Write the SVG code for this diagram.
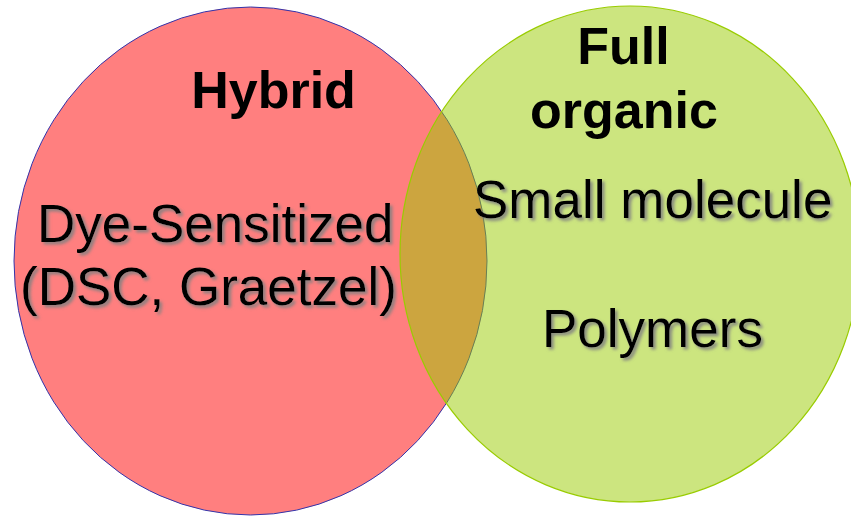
<svg xmlns="http://www.w3.org/2000/svg" width="851" height="516" viewBox="0 0 851 516">
<style>
.bold{font-family:"Liberation Sans",Arial,sans-serif;font-weight:bold;font-size:52px;fill:#000}
.reg{font-family:"Liberation Sans",Arial,sans-serif;font-size:53px;fill:#000;filter:url(#sh)}
</style>
<defs>
<filter id="sh" x="-10%" y="-30%" width="130%" height="160%">
<feDropShadow dx="2.5" dy="2.5" stdDeviation="1.5" flood-color="#808080" flood-opacity="0.9"/>
</filter>
</defs>
<rect width="851" height="516" fill="#fff"/>
<g id="hybrid">
<ellipse cx="250.5" cy="261" rx="236.5" ry="254" fill="#FF0000" fill-opacity="0.5" stroke="#3333AA" stroke-width="1"/>
</g>
<g id="full-organic">
<ellipse cx="630" cy="254" rx="230" ry="248" fill="#99CC00" fill-opacity="0.5" stroke="#99CC00" stroke-width="1.2"/>
</g>
<g id="labels">
<text class="bold" x="273.5" y="108" text-anchor="middle">Hybrid</text>
<text class="bold" x="623.5" y="64" text-anchor="middle">Full</text>
<text class="bold" x="624" y="128" text-anchor="middle">organic</text>
<text class="reg" x="37" y="242">Dye-Sensitized</text>
<text class="reg" x="20" y="305">(DSC, Graetzel)</text>
<text class="reg" x="473" y="218">Small molecule</text>
<text class="reg" x="542" y="347">Polymers</text>
</g>
<g id="connectors"></g>
</svg>
